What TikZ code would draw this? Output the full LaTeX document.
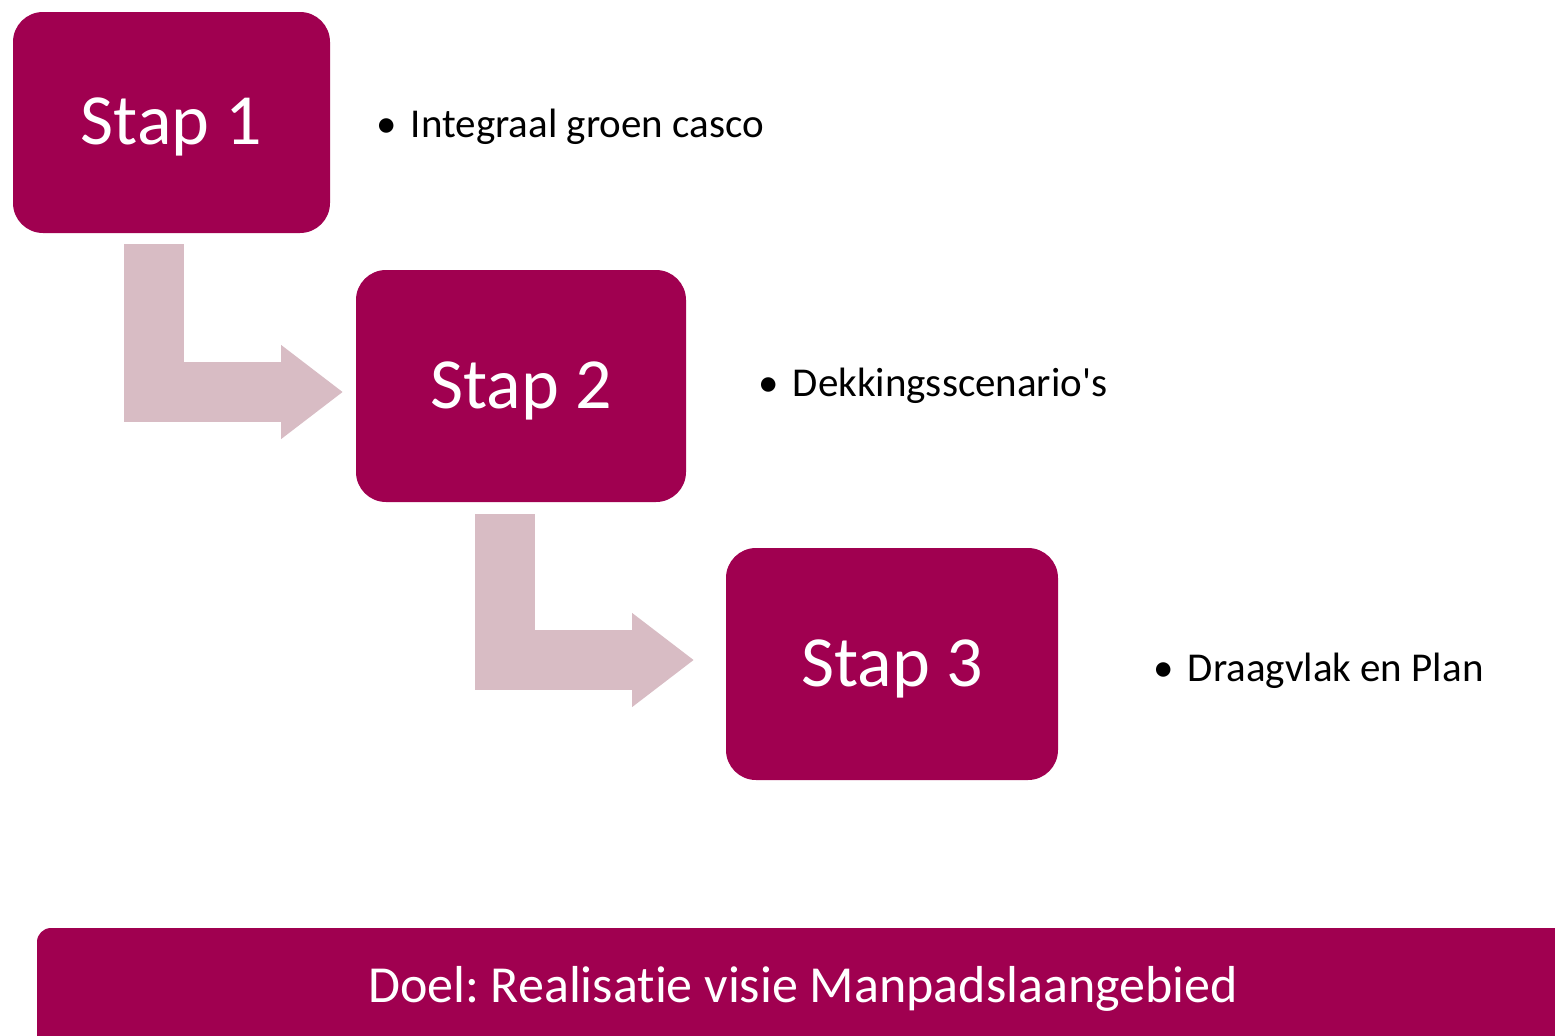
\documentclass[tikz,border=0pt]{standalone}
\usepackage{fontspec}
\setmainfont[Ligatures={NoCommon}]{Carlito}
\usetikzlibrary{arrows.meta, positioning}
\definecolor{stapred}{RGB}{160,0,80}
\definecolor{stappink}{RGB}{216,188,196}
\frenchspacing

\begin{document}
\begin{tikzpicture}[x=0.5pt, y=-0.5pt,
			stapbox/.style={rectangle, rounded corners=15pt, fill=stapred, text=white,
				font=\fontsize{36}{40}\selectfont, inner sep=0pt},
			item/.style={anchor=base west, font=\fontsize{20.5}{24}\selectfont, inner sep=0pt},
			steparrow/.style={draw=stappink, line width=30pt, line join=miter,
				-{Triangle[width=45pt, length=31pt]}}]
			
			\useasboundingbox (0,0) rectangle (1555,1035);
			\clip (0,0) rectangle (1555,1035);
			
			% Stappen
			\node[stapbox, minimum width=158.5pt, minimum height=110.5pt] (s1) at (171.5,122.5) {\raisebox{-11pt}[0pt][0pt]{Stap 1}};
			\node[stapbox, minimum width=165pt, minimum height=116pt] (s2) at (521,386) {\raisebox{-11pt}[0pt][0pt]{Stap 2}};
			\node[stapbox, minimum width=166pt, minimum height=116pt] (s3) at (892,664) {\raisebox{-11pt}[0pt][0pt]{Stap 3}};
			
			% Toelichting per stap
			\node[item] (t1) at (376,137) {\textbullet\hspace{7pt}Integraal groen casco};
			\node[item] (t2) at (758,396) {\textbullet\hspace{7pt}Dekkingsscenario\textquotesingle s};
			\node[item] (t3) at (1153,681) {\textbullet\hspace{7pt}Draagvlak en Plan};
			
			% --- Pijlen tussen de stappen ---
			\coordinate (a1s) at (154,244);
			\coordinate (a1e) at (343,392);
			\coordinate (a2s) at (505,514);
			\coordinate (a2e) at (694,660);
			\draw[steparrow] (a1s) |- (a1e);
			\draw[steparrow] (a2s) |- (a2e);
			
			% Doel
			\fill[stapred, rounded corners=7pt] (37,928) rectangle (1620,1100);
			\node[text=white, font=\fontsize{26}{30}\selectfont, inner sep=0pt] (doel) at (803,989) {Doel: Realisatie visie Manpadslaangebied};
			
		\end{tikzpicture}
\end{document}
